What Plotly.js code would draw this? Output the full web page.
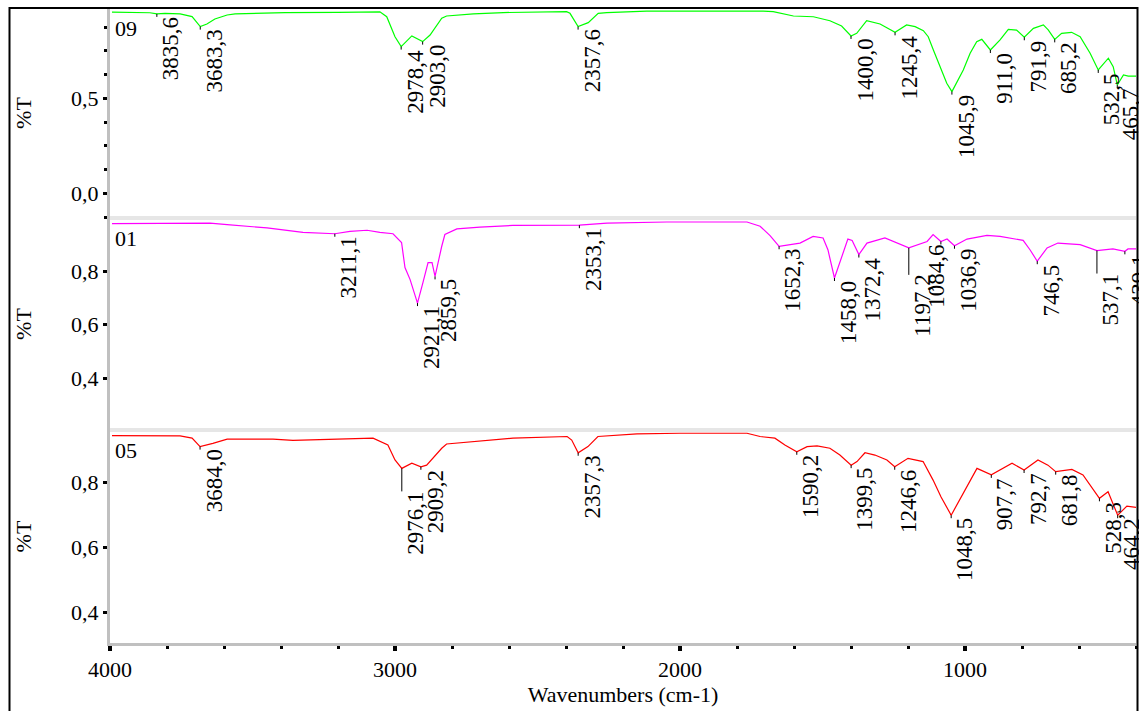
<!DOCTYPE html>
<html>
<head>
<meta charset="utf-8">
<script src="https://cdn.plot.ly/plotly-3.0.1.min.js"></script>
<style>html,body{margin:0;padding:0;background:#fff;}#chart{width:1139px;height:711px;}</style>
</head>
<body>
<div id="chart"></div>
<script>
// ---------- DATA ----------
// Sample 09 (green, top panel)
const wn09 = [3993,3900,3860,3835.6,3807,3754,3712,3683.3,3660,3632,3589,3561,3386,3200,3053,3029,3000,2978.4,2941,2903.0,2877,2836,2819,2725,2620,2398,2386,2357.6,2322,2287,2257,2117,1883,1708,1673,1602,1532,1474,1433,1400.0,1380,1345,1298,1263,1245.4,1205,1175,1146,1129,1111,1088,1064,1045.9,1029,1006,982,959,941,911.0,877,848,819,791.9,760,725,708,685.2,661,626,596,561,532.5,497,480,465.7,444,427,400];
const t09  = [0.953,0.951,0.950,0.944,0.947,0.944,0.930,0.877,0.891,0.917,0.938,0.944,0.951,0.952,0.955,0.929,0.824,0.772,0.828,0.798,0.833,0.921,0.933,0.944,0.951,0.956,0.947,0.877,0.898,0.947,0.951,0.959,0.961,0.959,0.956,0.933,0.929,0.908,0.880,0.828,0.842,0.908,0.891,0.860,0.847,0.886,0.877,0.856,0.824,0.754,0.666,0.579,0.535,0.587,0.649,0.737,0.798,0.810,0.754,0.807,0.863,0.859,0.821,0.868,0.886,0.860,0.810,0.842,0.847,0.824,0.737,0.649,0.711,0.666,0.570,0.623,0.617,0.617];
const peaks09 = [3835.6,3683.3,2978.4,2903.0,2357.6,1400.0,1245.4,1045.9,911.0,791.9,685.2,532.5,465.7];

// Sample 01 (magenta, middle panel)
const wn01 = [3993,3814,3649,3589,3449,3323,3211.1,3158,3098,3053,3007,2977,2965,2947,2921.1,2902,2884,2870,2859.5,2836,2825,2783,2702,2586,2353.1,2256,2046,1765,1719,1684,1652.3,1579,1533,1498,1481,1458.0,1432,1411,1396,1372.4,1344,1281,1197.2,1133,1112,1084.6,1063,1036.9,993,923,877,796,772,746.5,712,674,596,537.1,481,439.1,428,400];
const t01  = [0.979,0.981,0.981,0.975,0.963,0.946,0.941,0.950,0.954,0.946,0.941,0.908,0.814,0.769,0.681,0.758,0.833,0.833,0.781,0.894,0.938,0.959,0.966,0.972,0.973,0.981,0.985,0.985,0.969,0.934,0.894,0.906,0.931,0.925,0.881,0.775,0.856,0.921,0.916,0.863,0.906,0.925,0.888,0.912,0.938,0.912,0.921,0.896,0.921,0.935,0.931,0.916,0.881,0.838,0.888,0.906,0.900,0.878,0.884,0.875,0.884,0.884];
const peaks01 = [3211.1,2921.1,2859.5,2353.1,1652.3,1458.0,1372.4,1197.2,1084.6,1036.9,746.5,537.1,439.1];

// Sample 05 (red, bottom panel)
const wn05 = [3993,3800,3754,3712,3684.0,3639,3589,3428,3358,3077,3025,3000,2976.1,2941,2909.2,2889,2836,2819,2726,2586,2396,2380,2357.3,2323,2288,2151,2000,1765,1719,1667,1632,1590.2,1554,1519,1474,1439,1399.5,1379,1351,1316,1274,1246.6,1200,1147,1112,1084,1048.5,1018,989,958,907.7,835,792.7,744,709,681.8,625,586,528.3,498,464.2,432,400];
const t05  = [0.945,0.945,0.944,0.937,0.911,0.921,0.934,0.934,0.930,0.937,0.916,0.870,0.844,0.860,0.849,0.854,0.906,0.919,0.926,0.937,0.942,0.931,0.892,0.911,0.942,0.950,0.952,0.952,0.942,0.937,0.916,0.895,0.911,0.913,0.906,0.885,0.854,0.865,0.892,0.885,0.870,0.849,0.875,0.865,0.808,0.756,0.700,0.747,0.793,0.844,0.824,0.860,0.839,0.870,0.854,0.834,0.841,0.824,0.752,0.772,0.700,0.728,0.724];
const peaks05 = [3684.0,2976.1,2909.2,2357.3,1590.2,1399.5,1246.6,1048.5,907.7,792.7,681.8,528.3,464.2];

const sampleNames = ['09','01','05'];
const xTickVals = [4000,3000,2000,1000];
const yTicksTop = [0.0,0.5];
const yTicksLower = [0.4,0.6,0.8];

// ---------- STYLE / LAYOUT ----------
const FONT = 'Liberation Serif, Times, serif';
const W = 1139, H = 711;
const M = {l:110, r:3, t:8, b:68};
const plotH = H - M.t - M.b;
const dom = {bottom:[0,0.3354], middle:[0.3354,0.6693], top:[0.6693,1]};
const ranges = {top:[-0.13,0.975], middle:[0.205,1.0], bottom:[0.307,0.962]};
// extra label drop (px) with a leader line, and horizontal label nudges (px)
const leaderDrop = {'05':{2976.1:20}, '01':{1197.2:24, 537.1:20}};
const labelNudge = {'01':{1084.6:-18}};

const panels = [
  {name:sampleNames[0], wn:wn09, t:t09, peaks:peaks09, color:'#00ff00', yaxis:'y3', key:'top'},
  {name:sampleNames[1], wn:wn01, t:t01, peaks:peaks01, color:'#ff00ff', yaxis:'y2', key:'middle'},
  {name:sampleNames[2], wn:wn05, t:t05, peaks:peaks05, color:'#ff0000', yaxis:'y',  key:'bottom'}
];

const traces = [];
const annotations = [];
panels.forEach(p => {
  traces.push({x:p.wn, y:p.t, yaxis:p.yaxis, type:'scatter', mode:'lines',
    line:{color:p.color, width:1.2}, hoverinfo:'x+y', showlegend:false});
  const r = ranges[p.key], d = dom[p.key];
  const pxPerUnit = (d[1]-d[0])*plotH/(r[1]-r[0]);
  const lx = [], ly = [];
  p.peaks.forEach(pk => {
    const i = p.wn.indexOf(pk);
    const py = p.t[i];
    const drop = (leaderDrop[p.name] && leaderDrop[p.name][pk]) || 0;
    const nudge = (labelNudge[p.name] && labelNudge[p.name][pk]) || 0;
    lx.push(pk, pk, null);
    ly.push(py, py - (drop+3)/pxPerUnit, null);
    annotations.push({x:pk, y:py, xref:'x', yref:p.yaxis, showarrow:false,
      text:pk.toFixed(1).replace('.', ','), textangle:-90,
      xanchor:'center', yanchor:'top', xshift:14+nudge, yshift:-drop-1,
      font:{family:FONT, size:23, color:'#000'}});
  });
  traces.push({x:lx, y:ly, yaxis:p.yaxis, type:'scatter', mode:'lines',
    line:{color:'#000', width:1}, hoverinfo:'skip', showlegend:false});
  annotations.push({x:0, y:1, xref:'paper', yref:(p.yaxis==='y'?'y':p.yaxis)+' domain',
    text:p.name, showarrow:false, xanchor:'left', yanchor:'top', xshift:3, yshift:-6,
    font:{family:FONT, size:22, color:'#000'}});
});

function yAxis(key, ticks, extra){
  return Object.assign({
    domain:dom[key], range:ranges[key], anchor:'x',
    showline:true, linecolor:'#c0c0c0', linewidth:3,
    ticks:'outside', ticklen:4, tickwidth:3, tickcolor:'#000',
    tickvals:ticks, tickformat:'.1f', showgrid:false, zeroline:false,
    tickfont:{family:FONT, size:22, color:'#000'},
    title:{text:'%T', font:{family:FONT, size:22, color:'#000'}, standoff:34}
  }, extra||{});
}

const layout = {
  width:W, height:H, margin:M, paper_bgcolor:'#fff', plot_bgcolor:'rgba(0,0,0,0)',
  separators:',.', showlegend:false,
  xaxis:{range:[4000,400], anchor:'y', tickvals:xTickVals, showline:true, linecolor:'#c0c0c0', linewidth:3,
    ticks:'outside', ticklen:5, tickwidth:4, tickcolor:'#000', showgrid:false, zeroline:false,
    minor:{dtick:200, tick0:0, ticks:'outside', ticklen:3, tickwidth:3, tickcolor:'#000'},
    tickfont:{family:FONT, size:22, color:'#000'},
    title:{text:'Wavenumbers (cm-1)', font:{family:FONT, size:22, color:'#000'}, standoff:5}},
  yaxis: yAxis('bottom', yTicksLower),
  yaxis2: yAxis('middle', yTicksLower),
  yaxis3: yAxis('top', yTicksTop, {minor:{dtick:0.125, tick0:0, ticks:'outside', ticklen:3, tickwidth:3, tickcolor:'#000'}}),
  annotations: annotations,
  shapes: [
    {type:'line', xref:'paper', yref:'paper', x0:0, x1:1, y0:dom.middle[0], y1:dom.middle[0], line:{color:'#e6e6e6', width:4}, layer:'below'},
    {type:'line', xref:'paper', yref:'paper', x0:0, x1:1, y0:dom.top[0], y1:dom.top[0], line:{color:'#e6e6e6', width:4}, layer:'below'},
    {type:'rect', xref:'paper', yref:'paper', x0:(9.5-M.l)/(W-M.l-M.r), x1:(1137.5-M.l)/(W-M.l-M.r),
      y0:-0.12, y1:1.0, line:{color:'#000', width:2}, fillcolor:'rgba(0,0,0,0)'}
  ]
};

Plotly.newPlot('chart', traces, layout, {displayModeBar:false, staticPlot:true});
</script>
</body>
</html>
